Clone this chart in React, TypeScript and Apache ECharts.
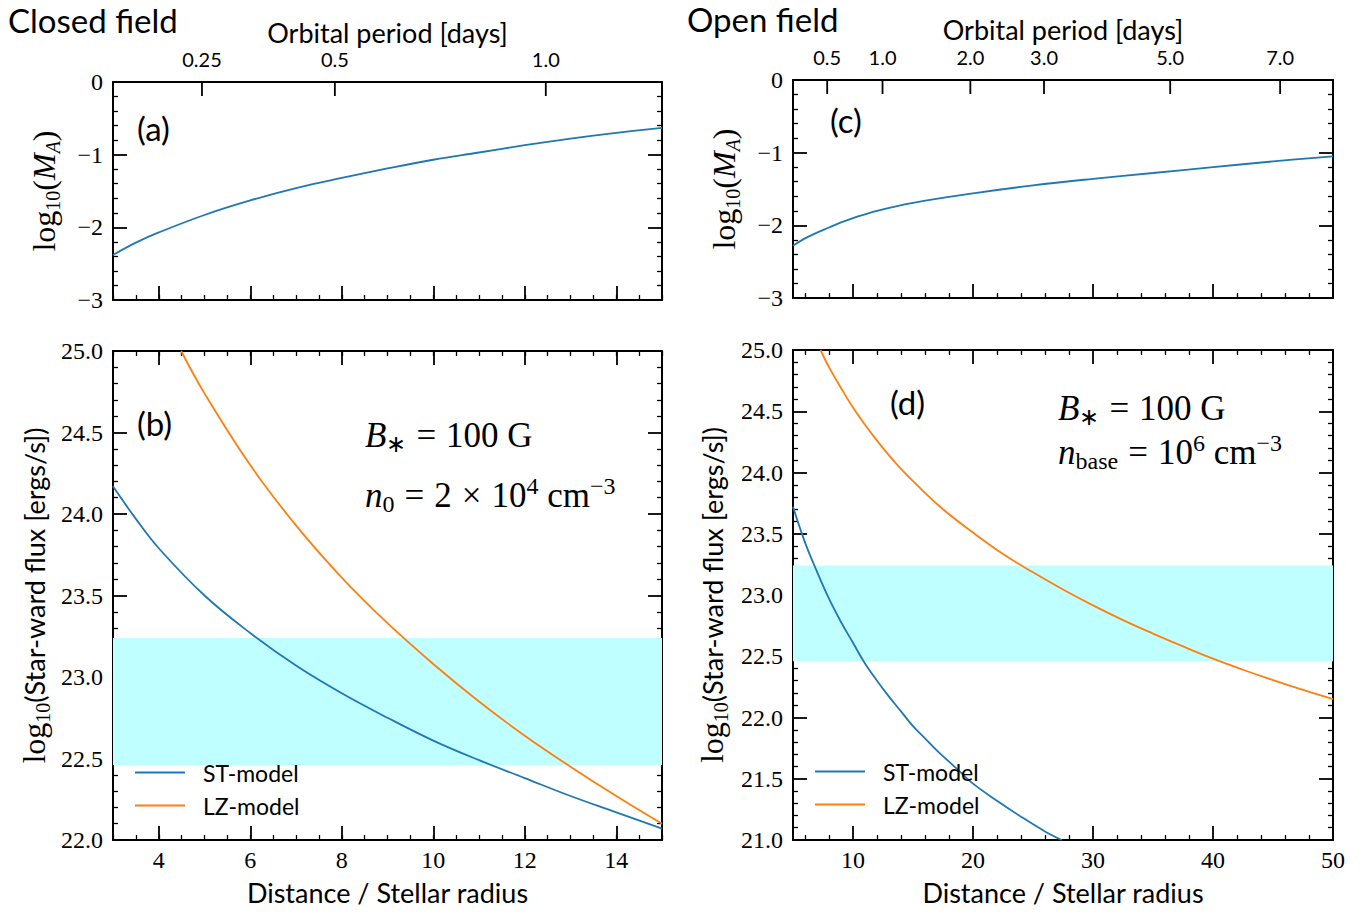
import React, { useEffect, useRef } from 'react';
import * as echarts from 'echarts';

// ---------------- data ----------------
// Panel (a): closed field, log10(M_A) vs distance
const distClosedMA = [3, 3.5, 4, 5, 6, 7, 8, 9, 10, 11, 12, 13, 14, 15];
const logMAClosed = [-2.38, -2.21, -2.07, -1.83, -1.63, -1.46, -1.32, -1.19, -1.07, -0.97, -0.87, -0.78, -0.7, -0.63];

// Panel (c): open field, log10(M_A) vs distance
const distOpenMA = [5, 6, 7, 8, 9, 10, 12, 15, 20, 25, 30, 35, 40, 45, 50];
const logMAOpen = [-2.28, -2.18, -2.1, -2.03, -1.96, -1.9, -1.8, -1.69, -1.56, -1.45, -1.36, -1.28, -1.2, -1.12, -1.05];

// Panel (b): closed field, star-ward flux
const distClosedST = [3, 3.5, 4, 5, 6, 7, 8, 9, 10, 11, 12, 13, 14, 15];
const fluxClosedST = [24.17, 23.97, 23.79, 23.5, 23.27, 23.07, 22.9, 22.75, 22.61, 22.49, 22.38, 22.27, 22.17, 22.07];
const distClosedLZ = [4.49, 5, 6, 7, 8, 9, 10, 11, 12, 13, 14, 15];
const fluxClosedLZ = [25.0, 24.74, 24.3, 23.93, 23.61, 23.33, 23.08, 22.85, 22.64, 22.45, 22.27, 22.1];

// Panel (d): open field, star-ward flux
const distOpenST = [5, 6, 7, 8, 9, 10, 11, 12, 13, 14, 15, 16, 17, 18, 19, 20, 22, 24, 26, 27.4];
const fluxOpenST = [23.72, 23.43, 23.19, 22.97, 22.78, 22.61, 22.44, 22.3, 22.17, 22.05, 21.93, 21.83, 21.73, 21.64, 21.55, 21.46, 21.32, 21.19, 21.07, 21.0];
const distOpenLZ = [7.29, 8, 9, 10, 11, 12, 13, 14, 15, 17.5, 20, 22.5, 25, 27.5, 30, 32.5, 35, 37.5, 40, 42.5, 45, 47.5, 50];
const fluxOpenLZ = [25.0, 24.86, 24.69, 24.53, 24.39, 24.26, 24.14, 24.03, 23.93, 23.7, 23.51, 23.335, 23.185, 23.045, 22.915, 22.795, 22.685, 22.58, 22.48, 22.39, 22.305, 22.225, 22.15];

// Observed flux band
const bandLow = 22.46;
const bandHigh = 23.24;

// Top axis: orbital period ticks
const periodTicksClosed = [0.25, 0.5, 1.0];
const periodLabelsClosed = ['0.25', '0.5', '1.0'];
const periodTicksOpen = [0.5, 1.0, 2.0, 3.0, 5.0, 7.0];
const periodLabelsOpen = ['0.5', '1.0', '2.0', '3.0', '5.0', '7.0'];
const oneDayDistance = 12.46; // stellar radii of a 1-day orbit

const seriesNames = ['ST-model', 'LZ-model'];

// ---------------- helpers ----------------
const serif = "'Liberation Serif', 'Times New Roman', serif";
const sans = "Lato, 'Open Sans', sans-serif";
const BLUE = '#1f77b4';
const ORANGE = '#ff7f0e';
const BLACK = '#000';

const pairs = (xs: number[], ys: number[]) => xs.map((x, i) => [x, ys[i]]);
const periodToDist = (p: number) => oneDayDistance * Math.pow(p, 2 / 3);

const majorTick = { show: true, inside: true, length: 14, lineStyle: { color: BLACK, width: 1.8 } };
const minorOnlyTick = { show: true, inside: true, length: 5, lineStyle: { color: BLACK, width: 1.3 } };
const minorTickStyle = (n: number) => ({ show: true, splitNumber: n, length: 5, lineStyle: { color: BLACK, width: 1.3 } });
const axisLineOn = { show: true, onZero: false, lineStyle: { color: BLACK, width: 2 } };
const axisLineOff = { show: false, onZero: false };
const noSplit = { show: false };
const tickLabel = { fontFamily: serif, fontSize: 24, color: BLACK };

const mathRich = (size: number, sub: number, lh: number) => ({
  r: { fontFamily: serif, fontSize: size, lineHeight: lh, color: BLACK },
  i: { fontFamily: serif, fontStyle: 'italic', fontSize: size, lineHeight: lh, color: BLACK },
  op: { fontFamily: serif, fontSize: size, lineHeight: lh, color: BLACK, padding: [0, Math.round(size * 0.28), 0, Math.round(size * 0.28)] },
  s: { fontFamily: serif, fontSize: sub, lineHeight: Math.round(sub * 0.85), verticalAlign: 'bottom', color: BLACK },
  si: { fontFamily: serif, fontStyle: 'italic', fontSize: sub, lineHeight: Math.round(sub * 0.85), verticalAlign: 'bottom', color: BLACK },
  sup: { fontFamily: serif, fontSize: sub, lineHeight: Math.round(sub * 0.85), verticalAlign: 'top', color: BLACK },
  ss: { fontFamily: sans, fontSize: 27, lineHeight: lh, color: BLACK },
});

const fmtInt = (v: number) => (v < 0 ? '\u2212' + Math.abs(v) : String(v));
const fmtOne = (v: number) => v.toFixed(1);

function periodTickSeries(xIdx: number, yIdx: number, ticks: number[], labels: string[], yTop: number) {
  return {
    type: 'custom',
    xAxisIndex: xIdx,
    yAxisIndex: yIdx,
    clip: false,
    silent: true,
    z: 5,
    data: ticks.map((p) => [periodToDist(p), yTop]),
    renderItem: (params: any, api: any) => {
      const pt = api.coord([api.value(0), api.value(1)]);
      return {
        type: 'group',
        children: [
          { type: 'line', shape: { x1: pt[0], y1: pt[1], x2: pt[0], y2: pt[1] + 14 }, style: { stroke: BLACK, lineWidth: 1.8 } },
          {
            type: 'text',
            x: pt[0],
            y: pt[1] - 23,
            style: { text: labels[params.dataIndex], align: 'center', verticalAlign: 'middle', fontFamily: sans, fontSize: 20, fill: BLACK },
          },
        ],
      };
    },
  };
}

function lineSeries(name: string, xIdx: number, yIdx: number, data: number[][], color: string, extra: any = {}) {
  return {
    type: 'line',
    name,
    xAxisIndex: xIdx,
    yAxisIndex: yIdx,
    data,
    symbol: 'none',
    showSymbol: false,
    smooth: 0.4,
    z: 3,
    lineStyle: { color, width: 1.8 },
    itemStyle: { color },
    ...extra,
  };
}

function buildOption() {
  const rich = mathRich(32, 20, 38);
  const richAnn = mathRich(35, 24, 42);
  const nameStyle = { fontFamily: sans, fontSize: 27, color: BLACK };

  const xAxis: any[] = [
    // 0: (a) bottom major
    { type: 'value', gridIndex: 0, position: 'bottom', min: 3, max: 15, splitNumber: 6, axisLine: axisLineOn, axisTick: majorTick, axisLabel: { show: false }, splitLine: noSplit },
    // 1: (a) bottom minor
    { type: 'value', gridIndex: 0, position: 'bottom', min: 3, max: 15, interval: 0.5, axisLine: axisLineOff, axisTick: minorOnlyTick, axisLabel: { show: false }, splitLine: noSplit },
    // 2: (a) top line + name
    { type: 'value', gridIndex: 0, position: 'top', min: 3, max: 15, axisLine: axisLineOn, axisTick: { show: false }, axisLabel: { show: false }, splitLine: noSplit,
      name: 'Orbital period [days]', nameLocation: 'middle', nameGap: 36, nameTextStyle: nameStyle },
    // 3: (b) bottom major + labels
    { type: 'value', gridIndex: 1, position: 'bottom', min: 3, max: 15, splitNumber: 6, axisLine: axisLineOn, axisTick: majorTick,
      axisLabel: { ...tickLabel, margin: 8, showMinLabel: false, showMaxLabel: false }, splitLine: noSplit,
      name: 'Distance / Stellar radius', nameLocation: 'middle', nameGap: 39, nameTextStyle: nameStyle },
    // 4: (b) bottom minor
    { type: 'value', gridIndex: 1, position: 'bottom', min: 3, max: 15, interval: 0.5, axisLine: axisLineOff, axisTick: minorOnlyTick, axisLabel: { show: false }, splitLine: noSplit },
    // 5: (b) top major
    { type: 'value', gridIndex: 1, position: 'top', min: 3, max: 15, splitNumber: 6, axisLine: axisLineOn, axisTick: majorTick, axisLabel: { show: false }, splitLine: noSplit },
    // 6: (b) top minor
    { type: 'value', gridIndex: 1, position: 'top', min: 3, max: 15, interval: 0.5, axisLine: axisLineOff, axisTick: minorOnlyTick, axisLabel: { show: false }, splitLine: noSplit },
    // 7: (c) bottom major + minor
    { type: 'value', gridIndex: 2, position: 'bottom', min: 5, max: 50, splitNumber: 5, axisLine: axisLineOn, axisTick: majorTick, minorTick: minorTickStyle(5), axisLabel: { show: false }, splitLine: noSplit, minorSplitLine: noSplit },
    // 8: (c) top line + name
    { type: 'value', gridIndex: 2, position: 'top', min: 5, max: 50, axisLine: axisLineOn, axisTick: { show: false }, axisLabel: { show: false }, splitLine: noSplit,
      name: 'Orbital period [days]', nameLocation: 'middle', nameGap: 37, nameTextStyle: nameStyle },
    // 9: (d) bottom major + minor + labels
    { type: 'value', gridIndex: 3, position: 'bottom', min: 5, max: 50, splitNumber: 5, axisLine: axisLineOn, axisTick: majorTick, minorTick: minorTickStyle(5),
      axisLabel: { ...tickLabel, margin: 8, showMinLabel: false, showMaxLabel: true }, splitLine: noSplit, minorSplitLine: noSplit,
      name: 'Distance / Stellar radius', nameLocation: 'middle', nameGap: 39, nameTextStyle: nameStyle },
    // 10: (d) top major + minor
    { type: 'value', gridIndex: 3, position: 'top', min: 5, max: 50, splitNumber: 5, axisLine: axisLineOn, axisTick: majorTick, minorTick: minorTickStyle(5), axisLabel: { show: false }, splitLine: noSplit, minorSplitLine: noSplit },
  ];

  const yName = (text: string, gap: number) => ({
    name: text,
    nameLocation: 'middle',
    nameRotate: 90,
    nameGap: gap,
    nameTextStyle: { rich },
  });

  const yMA = (grid: number, pos: string, withName: boolean) => ({
    type: 'value', gridIndex: grid, position: pos, min: -3, max: 0, interval: 1,
    axisLine: axisLineOn, axisTick: majorTick, minorTick: minorTickStyle(5),
    axisLabel: pos === 'left' ? { ...tickLabel, margin: 10, formatter: fmtInt } : { show: false },
    splitLine: noSplit, minorSplitLine: noSplit,
    ...(withName ? yName('{r|log}{s|10}{r|(}{i|M}{si|A}{r|)}', 50) : {}),
  });

  const yFlux = (grid: number, pos: string, min: number, gap: number, withName: boolean) => ({
    type: 'value', gridIndex: grid, position: pos, min, max: 25, interval: 0.5,
    axisLine: axisLineOn, axisTick: majorTick, minorTick: minorTickStyle(5),
    axisLabel: pos === 'left' ? { ...tickLabel, margin: 10, formatter: fmtOne } : { show: false },
    splitLine: noSplit, minorSplitLine: noSplit,
    ...(withName ? yName('{r|log}{s|10}{ss|(Star-ward flux [ergs/s])}', gap) : {}),
  });

  const yAxis: any[] = [
    yMA(0, 'left', true), // 0
    yMA(0, 'right', false), // 1
    yFlux(1, 'left', 22, 60, true), // 2
    yFlux(1, 'right', 22, 60, false), // 3
    yMA(2, 'left', true), // 4
    yMA(2, 'right', false), // 5
    yFlux(3, 'left', 21, 62, true), // 6
    yFlux(3, 'right', 21, 62, false), // 7
  ];

  const band = (x0: number, x1: number) => ({
    silent: true,
    itemStyle: { color: '#bfffff', opacity: 1 },
    data: [[{ xAxis: x0, yAxis: bandLow }, { xAxis: x1, yAxis: bandHigh }]],
  });

  const series: any[] = [
    lineSeries('MA-closed', 0, 0, pairs(distClosedMA, logMAClosed), BLUE),
    periodTickSeries(0, 0, periodTicksClosed, periodLabelsClosed, 0),
    lineSeries(seriesNames[0], 3, 2, pairs(distClosedST, fluxClosedST), BLUE, { markArea: band(3, 15) }),
    lineSeries(seriesNames[1], 3, 2, pairs(distClosedLZ, fluxClosedLZ), ORANGE),
    lineSeries('MA-open', 7, 4, pairs(distOpenMA, logMAOpen), BLUE),
    periodTickSeries(7, 4, periodTicksOpen, periodLabelsOpen, 0),
    lineSeries(seriesNames[0], 9, 6, pairs(distOpenST, fluxOpenST), BLUE, { markArea: band(5, 50) }),
    lineSeries(seriesNames[1], 9, 6, pairs(distOpenLZ, fluxOpenLZ), ORANGE),
  ];

  const legendBase = {
    data: seriesNames.map((n) => ({ name: n, icon: 'rect' })),
    orient: 'vertical',
    padding: 0,
    itemWidth: 50,
    itemHeight: 2,
    itemGap: 10,
    selectedMode: false,
    textStyle: { fontFamily: sans, fontSize: 23, color: BLACK, padding: [0, 0, 0, 13] },
  };

  const txt = (text: string, x: number, y: number, size: number) => ({
    type: 'text', x, y, z: 10,
    style: { text, fontFamily: sans, fontSize: size, fill: BLACK, align: 'left', verticalAlign: 'middle' },
  });
  const mathTxt = (text: string, x: number, y: number) => ({
    type: 'text', x, y, z: 10,
    style: { text, rich: richAnn, align: 'left', verticalAlign: 'middle', fill: BLACK },
  });

  const graphic: any[] = [
    txt('Closed field', 8, 20, 33),
    txt('Open field', 687, 19, 33),
    txt('(a)', 137, 128, 33),
    txt('(b)', 137, 423, 33),
    txt('(c)', 830, 120, 33),
    txt('(d)', 890, 402, 33),
    mathTxt('{i|B}{s|\u2217}{op|=}{r|100 G}', 365, 435),
    mathTxt('{i|n}{s|0}{op|=}{r|2}{op|\u00d7}{r|10}{sup|4}{r| cm}{sup|\u22123}', 365, 495),
    mathTxt('{i|B}{s|\u2217}{op|=}{r|100 G}', 1058, 408),
    mathTxt('{i|n}{s|base}{op|=}{r|10}{sup|6}{r| cm}{sup|\u22123}', 1058, 452),
  ];

  return {
    animation: false,
    backgroundColor: '#fff',
    textStyle: { fontFamily: serif },
    grid: [
      { left: 113, top: 82, width: 549, height: 218, containLabel: false, outerBoundsMode: 'none' },
      { left: 113, top: 351, width: 549, height: 489, containLabel: false, outerBoundsMode: 'none' },
      { left: 793, top: 80, width: 540, height: 218, containLabel: false, outerBoundsMode: 'none' },
      { left: 793, top: 350, width: 540, height: 490, containLabel: false, outerBoundsMode: 'none' },
    ],
    xAxis,
    yAxis,
    legend: [
      { ...legendBase, left: 135, top: 761 },
      { ...legendBase, left: 815, top: 760 },
    ],
    series,
    graphic,
  };
}

export default function App() {
  const ref = useRef<HTMLDivElement>(null);
  useEffect(() => {
    document.body.style.margin = '0';
    if (!ref.current) return;
    const chart = echarts.init(ref.current, undefined, { renderer: 'svg' });
    chart.setOption(buildOption() as any);
    return () => chart.dispose();
  }, []);
  return <div ref={ref} style={{ width: 1372, height: 914 }} />;
}
